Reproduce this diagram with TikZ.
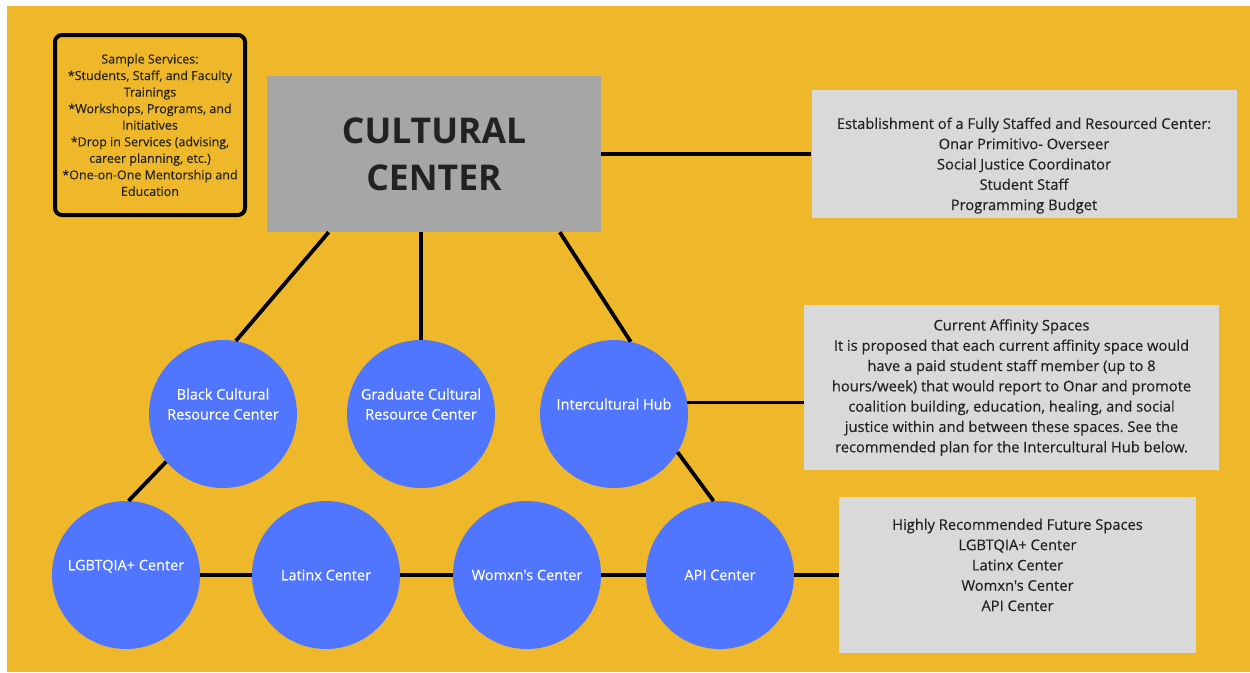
\documentclass[tikz,border=0pt]{standalone}
\usepackage{fontspec}
\setmainfont{Open Sans}
\newfontfamily\semifont{Open Sans}[FakeBold=0.3]
\frenchspacing
\usetikzlibrary{positioning,calc}
\definecolor{mustard}{RGB}{239,184,42}
\definecolor{spaceblue}{RGB}{80,117,255}
\definecolor{hubgray}{RGB}{166,166,166}
\definecolor{notegray}{RGB}{217,217,217}
\definecolor{ink}{RGB}{34,34,34}
\tikzset{
  space/.style    = {circle, fill=spaceblue, minimum size=148pt, inner sep=0pt, align=center, text=white, font=\fontsize{14.5}{20}\selectfont\semifont},
  hub/.style      = {fill=hubgray, minimum width=334pt, minimum height=156pt, inner sep=0pt, align=center, text=ink, font=\fontsize{35.5}{47}\selectfont\bfseries},
  note/.style     = {fill=notegray, inner sep=0pt, align=center, text=ink, font=\fontsize{14.7}{20.3}\selectfont\semifont},
  services/.style = {draw=black, line width=4pt, rounded corners=7pt, minimum width=190pt, minimum height=180pt, inner sep=0pt, align=center, text=ink, font=\fontsize{12.5}{16.55}\selectfont\semifont},
  link/.style     = {line width=3.8pt, black}
}

\begin{document}
\begin{tikzpicture}[x=1pt, y=-1pt]
    \useasboundingbox (0,0) rectangle (1250,672);
    \fill[mustard] (7,6) rectangle (1250,672);
    % Centre and side notes
    \node[services] (services) at (150,125)
      {Sample Services:\\{}*Students, Staff, and Faculty\\Trainings\\{}*Workshops, Programs, and\\Initiatives\\{}*Drop in Services (advising,\\career planning, etc.)\\{}*One-on-One Mentorship and\\Education};
    \node[hub] (cc) at (434,154) {CULTURAL\\CENTER};
    \node[note, minimum width=425pt, minimum height=128pt] (staff) at (1024,154)
      {\strut\\Establishment of a Fully Staffed and Resourced Center:\\Onar Primitivo- Overseer\\Social Justice Coordinator\\Student Staff\\Programming Budget};
    \node[note, minimum width=415pt, minimum height=165pt] (affinity) at (1011.5,387.5)
      {Current Affinity Spaces\\It is proposed that each current affinity space would\\have a paid student staff member (up to 8\\hours/week) that would report to Onar and promote\\coalition building, education, healing, and social\\justice within and between these spaces. See the\\recommended plan for the Intercultural Hub below.};
    \node[note, minimum width=357pt, minimum height=156pt] (future) at (1017.5,575)
      {Highly Recommended Future Spaces\\LGBTQIA+ Center\\Latinx Center\\Womxn's Center\\API Center\\~};
    % Current affinity spaces
    \node[space] (black) at (223,414) {Black Cultural\\Resource Center\\~};
    \node[space] (grad)  at (421,414) {Graduate Cultural\\Resource Center\\~};
    \node[space] (inter) at (614,414) {Intercultural Hub\\~};
    % Future spaces
    \node[space] (lgbt)   at (126,575) {LGBTQIA+ Center\\~};
    \node[space] (latinx) at (326,575) {Latinx Center};
    \node[space] (womxn)  at (527,575) {Womxn's Center};
    \node[space] (api)    at (720,575) {API Center};
    % Links
    \draw[link] ($(cc.south west)!0.185!(cc.south east)$) -- (black.80);
    \draw[link] (grad.north) -- (grad.north |- cc.south);
    \draw[link] ($(cc.south west)!0.876!(cc.south east)$) -- (inter.77);
    \draw[link] (cc.east) -- (staff.west);
    \draw[link] (inter.9) -- (inter.9 -| affinity.west);
    \draw[link] (black.220) -- (lgbt.88);
    \draw[link] (inter.-31) -- (api.95);
    \draw[link] (lgbt) -- (latinx);
    \draw[link] (latinx) -- (womxn);
    \draw[link] (womxn) -- (api);
    \draw[link] (api) -- (future);
  \end{tikzpicture}
\end{document}
